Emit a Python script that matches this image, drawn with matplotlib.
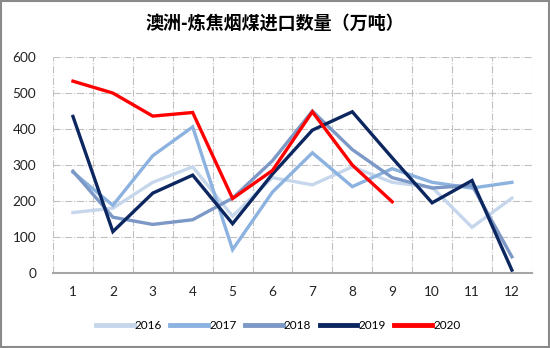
import matplotlib.pyplot as plt
from matplotlib.patches import Rectangle
import numpy as np

plt.rcParams['font.family'] = ['Lato', 'Noto Sans CJK SC', 'DejaVu Sans']

months = list(range(1, 13))
labels = [str(m) for m in months]
y2016 = [168, 180, 252, 295, 158, 265, 245, 295, 252, 238, 127, 208]
y2017 = [280, 188, 326, 406, 65, 225, 334, 240, 290, 252, 236, 252]
y2018 = [283, 155, 135, 148, 208, 312, 450, 343, 265, 236, 244, 45]
y2019 = [435, 115, 222, 272, 137, 275, 397, 448, 320, 195, 257, 8]
y2020 = [533, 500, 436, 446, 207, 285, 448, 300, 198]

series = [
    ('2016', y2016, '#c6d7ec'),
    ('2017', y2017, '#8cb2e0'),
    ('2018', y2018, '#7c98c6'),
    ('2019', y2019, '#0c2660'),
    ('2020', y2020, '#ff0000'),
]

fig = plt.figure(figsize=(5.5, 3.48), dpi=100)
ax = fig.add_axes([0.0964, 0.2155, 0.8706, 0.6205])

for name, vals, col in series:
    ax.plot(months[:len(vals)], vals, color=col, lw=2.4, label=name,
            solid_joinstyle='miter')

ax.set_xlim(0.5, 12.5)
ax.set_ylim(0, 600)
ax.set_yticks(range(0, 601, 100))
ax.set_xticks(months)
ax.set_xticklabels(labels)
ax.set_xticks(np.arange(0.5, 12.6, 1), minor=True)
ax.grid(False)
ax.grid(True, which='minor', axis='x', color='#c0c0c0', ls='-.', lw=0.8)
ax.grid(True, which='major', axis='y', color='#c0c0c0', ls='-.', lw=0.8)
ax.set_axisbelow(True)
for s in ['top', 'right', 'left']:
    ax.spines[s].set_visible(False)
ax.spines['bottom'].set_color('#a6a6a6')
ax.spines['bottom'].set_linewidth(1.5)
ax.tick_params(axis='both', which='both', length=0, labelsize=9.8, colors='#222222')
ax.tick_params(axis='x', pad=9)
ax.tick_params(axis='y', pad=12)

fig.text(0.5, 0.935, '澳洲-炼焦烟煤进口数量（万吨）', ha='center', va='center',
         fontsize=13, fontweight='bold', family=['Noto Sans CJK SC', 'DejaVu Sans'])

leg = ax.legend(loc='center', bbox_to_anchor=(0.5 - 0.03, -0.245), ncol=5, frameon=False,
                fontsize=8.5, handlelength=3.2, handletextpad=0.1, columnspacing=0.7)
for line in leg.get_lines():
    line.set_linewidth(3.5)

fig.add_artist(Rectangle((0.002, 0.003), 0.996, 0.994, transform=fig.transFigure,
                         fill=False, edgecolor='#8a8a8a', lw=1.5))

fig.savefig('out.png', dpi=100)
